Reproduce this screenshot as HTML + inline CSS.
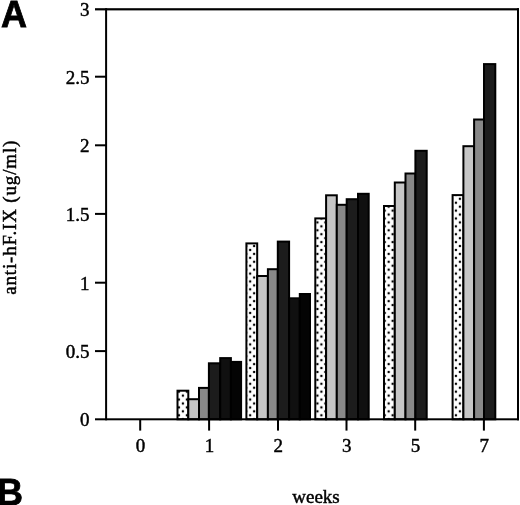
<!DOCTYPE html>
<html><head><meta charset="utf-8"><style>
html,body{margin:0;padding:0;background:#fff;}
body{width:520px;height:505px;overflow:hidden;}
svg{display:block;will-change:transform;}
.n{font-family:"Liberation Serif",serif;font-size:19px;fill:#000;stroke:#000;stroke-width:0.45px;}
.L{font-family:"Liberation Sans",sans-serif;font-weight:bold;font-size:36px;fill:#000;stroke:#000;stroke-width:0.8px;}
</style></head><body>
<svg width="520" height="505" viewBox="0 0 520 505">
<defs>
<pattern id="dots" patternUnits="userSpaceOnUse" width="7.914" height="7.872" x="-1.1" y="0.03">
<rect width="7.914" height="7.872" fill="#fff"/>
<circle cx="1.9785" cy="1.968" r="1.25" fill="#000"/>
<circle cx="5.9355" cy="5.904" r="1.25" fill="#000"/>
</pattern>
</defs>
<rect width="520" height="505" fill="#fff"/>
<rect x="177.50" y="390.70" width="10.80" height="28.60" fill="url(#dots)" stroke="#000" stroke-width="2"/>
<rect x="188.30" y="399.20" width="10.70" height="20.10" fill="#c6c6c6" stroke="#000" stroke-width="2"/>
<rect x="199.00" y="387.90" width="9.90" height="31.40" fill="#888888" stroke="#000" stroke-width="2"/>
<rect x="208.90" y="363.30" width="11.30" height="56.00" fill="#1c1c1c" stroke="#000" stroke-width="2"/>
<rect x="220.20" y="358.10" width="10.70" height="61.20" fill="#101010" stroke="#000" stroke-width="2"/>
<rect x="230.90" y="361.90" width="10.20" height="57.40" fill="#040404" stroke="#000" stroke-width="2"/>
<rect x="246.40" y="243.40" width="10.80" height="175.90" fill="url(#dots)" stroke="#000" stroke-width="2"/>
<rect x="257.20" y="276.00" width="10.70" height="143.30" fill="#c6c6c6" stroke="#000" stroke-width="2"/>
<rect x="267.90" y="269.20" width="9.90" height="150.10" fill="#888888" stroke="#000" stroke-width="2"/>
<rect x="277.80" y="241.60" width="11.30" height="177.70" fill="#1c1c1c" stroke="#000" stroke-width="2"/>
<rect x="289.10" y="298.30" width="10.70" height="121.00" fill="#101010" stroke="#000" stroke-width="2"/>
<rect x="299.80" y="294.00" width="10.20" height="125.30" fill="#040404" stroke="#000" stroke-width="2"/>
<rect x="315.30" y="218.40" width="10.80" height="200.90" fill="url(#dots)" stroke="#000" stroke-width="2"/>
<rect x="326.10" y="195.30" width="10.70" height="224.00" fill="#c6c6c6" stroke="#000" stroke-width="2"/>
<rect x="336.80" y="204.80" width="9.90" height="214.50" fill="#888888" stroke="#000" stroke-width="2"/>
<rect x="346.70" y="199.20" width="11.30" height="220.10" fill="#1c1c1c" stroke="#000" stroke-width="2"/>
<rect x="358.00" y="193.80" width="10.70" height="225.50" fill="#101010" stroke="#000" stroke-width="2"/>
<rect x="384.00" y="206.00" width="10.80" height="213.30" fill="url(#dots)" stroke="#000" stroke-width="2"/>
<rect x="394.80" y="182.50" width="10.70" height="236.80" fill="#c6c6c6" stroke="#000" stroke-width="2"/>
<rect x="405.50" y="173.50" width="9.90" height="245.80" fill="#888888" stroke="#000" stroke-width="2"/>
<rect x="415.40" y="150.80" width="11.30" height="268.50" fill="#1c1c1c" stroke="#000" stroke-width="2"/>
<rect x="452.60" y="195.10" width="10.80" height="224.20" fill="url(#dots)" stroke="#000" stroke-width="2"/>
<rect x="463.40" y="146.20" width="10.70" height="273.10" fill="#c6c6c6" stroke="#000" stroke-width="2"/>
<rect x="474.10" y="119.50" width="9.90" height="299.80" fill="#888888" stroke="#000" stroke-width="2"/>
<rect x="484.00" y="64.10" width="11.30" height="355.20" fill="#1c1c1c" stroke="#000" stroke-width="2"/>
<rect x="95" y="8.2" width="424" height="2.2" fill="#000"/>
<rect x="95" y="418.30" width="424" height="2" fill="#000"/>
<rect x="105.1" y="8.20" width="2" height="412.10" fill="#000"/>
<rect x="517" y="8.20" width="2" height="412.10" fill="#000"/>
<rect x="95" y="350.10" width="11" height="2" fill="#000"/>
<rect x="95" y="281.70" width="11" height="2" fill="#000"/>
<rect x="95" y="212.90" width="11" height="2" fill="#000"/>
<rect x="95" y="144.30" width="11" height="2" fill="#000"/>
<rect x="95" y="75.70" width="11" height="2" fill="#000"/>
<rect x="139.20" y="419.30" width="2" height="11.3" fill="#000"/>
<rect x="208.10" y="419.30" width="2" height="11.3" fill="#000"/>
<rect x="277.00" y="419.30" width="2" height="11.3" fill="#000"/>
<rect x="345.50" y="419.30" width="2" height="11.3" fill="#000"/>
<rect x="414.20" y="419.30" width="2" height="11.3" fill="#000"/>
<rect x="482.90" y="419.30" width="2" height="11.3" fill="#000"/>
<text x="89.5" y="426.40" text-anchor="end" class="n">0</text>
<text x="89.5" y="358.20" text-anchor="end" class="n">0.5</text>
<text x="89.5" y="289.80" text-anchor="end" class="n">1</text>
<text x="89.5" y="221.00" text-anchor="end" class="n">1.5</text>
<text x="89.5" y="152.40" text-anchor="end" class="n">2</text>
<text x="89.5" y="83.80" text-anchor="end" class="n">2.5</text>
<text x="89.5" y="16.30" text-anchor="end" class="n">3</text>
<text x="140.50" y="452" text-anchor="middle" class="n">0</text>
<text x="209.40" y="452" text-anchor="middle" class="n">1</text>
<text x="278.30" y="452" text-anchor="middle" class="n">2</text>
<text x="346.80" y="452" text-anchor="middle" class="n">3</text>
<text x="415.50" y="452" text-anchor="middle" class="n">5</text>
<text x="484.20" y="452" text-anchor="middle" class="n">7</text>
<text x="316" y="503.2" text-anchor="middle" class="n">weeks</text>
<text transform="translate(16,217.3) rotate(-90)" text-anchor="middle" class="n" style="font-size:19px;letter-spacing:0.84px">anti-hF.IX (ug/ml)</text>
<text x="1" y="27" class="L">A</text>
<text x="-3" y="505" class="L">B</text>
</svg>
</body></html>
